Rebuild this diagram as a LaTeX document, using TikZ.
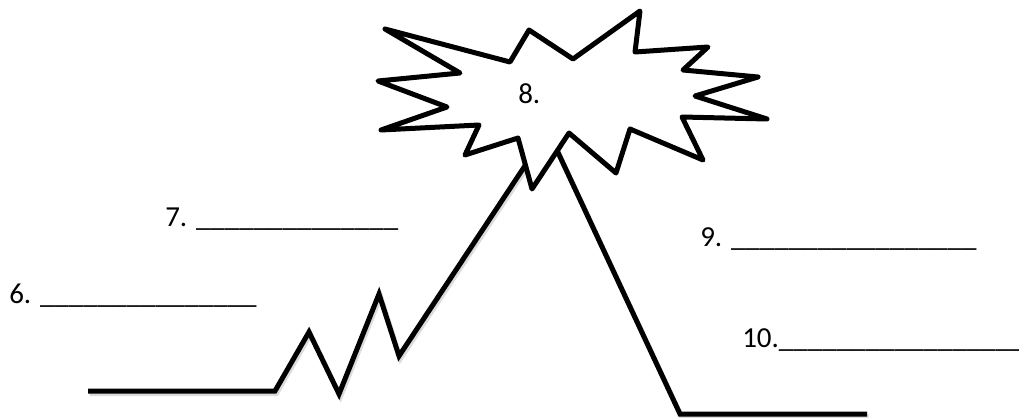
\documentclass[tikz,border=0pt]{standalone}
\usepackage{fontspec}
\setmainfont{Carlito}
\usepackage{tikz}
\usetikzlibrary{positioning}
\definecolor{kshade}{HTML}{9A9A9A}

\begin{document}
\begin{tikzpicture}[x=0.75pt, y=-0.75pt,
  blank/.style={font=\fontsize{21.75}{26}\selectfont, anchor=base west, inner sep=0pt},
  thickline/.style={line width=3.75pt}]
\useasboundingbox (0,0) rectangle (1019,417);
\draw[kshade, opacity=0.35, thickline, shift={(1.5,2.5)}]
  (88,391) -- (275,391) -- (309,332) -- (339,394) -- (379,294) -- (399,356)
  -- (548,131) -- (680,414) -- (867,414);
\draw[thickline]
  (88,391) -- (275,391) -- (309,332) -- (339,394) -- (379,294) -- (399,356)
  -- (548,131) -- (680,414) -- (867,414);
\filldraw[fill=white, thickline, line join=round]
  (385,29) -- (510,62) -- (529,30) -- (573,59) -- (640,11) -- (635,52)
  -- (708,47) -- (683,70) -- (758,77) -- (695,96) -- (767,119) -- (682,117)
  -- (703,160) -- (630,129) -- (616,173) -- (569,133) -- (532,189) -- (518,138)
  -- (465,155) -- (479,125) -- (381,130) -- (447,107) -- (378,81) -- (460,73)
  -- cycle;
\node[blank] (lab8) at (518,104) {8.};
\node[blank] (lab7) at (165,226) {7. \_\_\_\_\_\_\_\_\_\_\_\_\_\_};
\node[blank] (lab6) at (9,303) {6. \_\_\_\_\_\_\_\_\_\_\_\_\_\_\_};
\node[blank] (lab9) at (700,246) {9. \_\_\_\_\_\_\_\_\_\_\_\_\_\_\_\_\_};
\node[blank] (lab10) at (742,347) {10.\_\_\_\_\_\_\_\_\_\_\_\_\_\_\_\_\_};
\end{tikzpicture}
\end{document}
